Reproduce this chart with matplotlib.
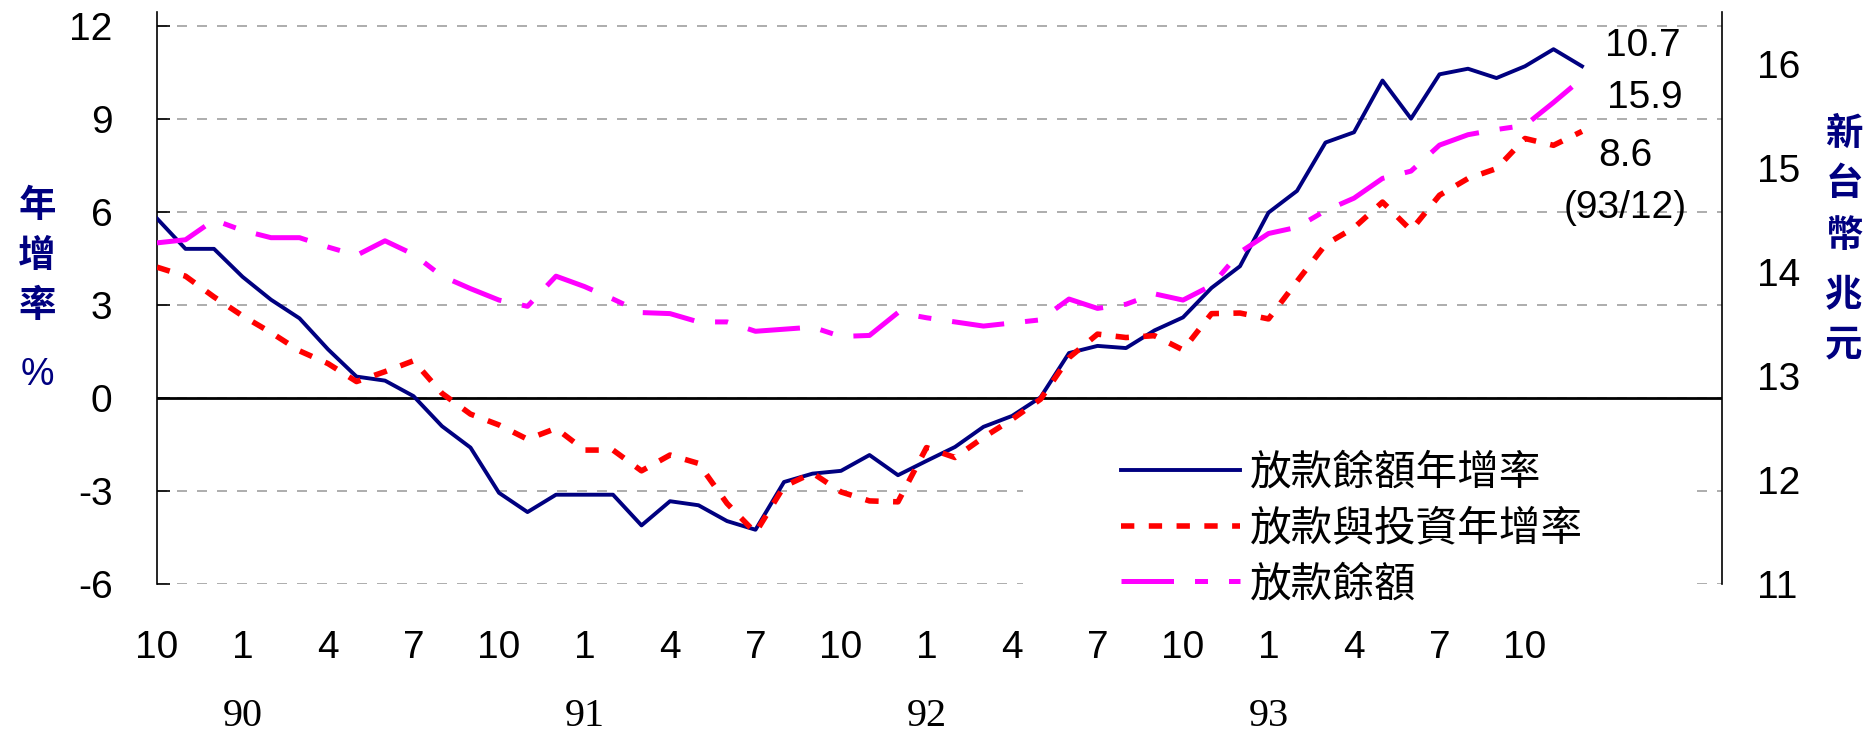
import matplotlib
matplotlib.use("Agg")
import matplotlib.pyplot as plt
from matplotlib.patches import Rectangle
from matplotlib.transforms import blended_transform_factory

# monthly data, 89/10 .. 93/12
loan_growth = [5.79, 4.81, 4.81, 3.91, 3.17, 2.57, 1.57, 0.69, 0.56, 0.06,
               -0.91, -1.60, -3.06, -3.68, -3.12, -3.12, -3.12, -4.11, -3.33, -3.46,
               -3.97, -4.25, -2.71, -2.44, -2.35, -1.84, -2.49, -2.03, -1.58, -0.93,
               -0.58, 0.02, 1.45, 1.68, 1.61, 2.18, 2.60, 3.55, 4.25, 5.98,
               6.68, 8.24, 8.57, 10.24, 9.01, 10.44, 10.62, 10.32, 10.70, 11.25,
               10.70]
loan_inv_growth = [4.22, 3.93, 3.26, 2.65, 2.11, 1.52, 1.11, 0.53, 0.85, 1.20,
                   0.15, -0.52, -0.87, -1.33, -0.98, -1.68, -1.68, -2.35, -1.84, -2.11,
                   -3.40, -4.35, -2.85, -2.42, -3.03, -3.32, -3.35, -1.60, -1.92, -1.27,
                   -0.69, -0.04, 1.30, 2.06, 1.95, 2.01, 1.55, 2.72, 2.74, 2.55,
                   3.76, 4.95, 5.49, 6.32, 5.41, 6.54, 7.08, 7.40, 8.37, 8.15,
                   8.60]
loan_balance = [14.28, 14.31, 14.50, 14.40, 14.33, 14.33, 14.24, 14.16, 14.30, 14.17,
                13.96, 13.84, 13.73, 13.67, 13.96, 13.86, 13.74, 13.61, 13.60, 13.52,
                13.52, 13.43, 13.45, 13.47, 13.38, 13.39, 13.61, 13.56, 13.52, 13.48,
                13.51, 13.54, 13.74, 13.65, 13.69, 13.79, 13.73, 13.87, 14.19, 14.37,
                14.43, 14.59, 14.71, 14.90, 14.97, 15.22, 15.32, 15.37, 15.41, 15.63,
                15.86]

month_labels = ["10", "1", "4", "7"] * 4 + ["10"]
year_labels = ["90", "91", "92", "93"]
year_pos = [3, 15, 27, 39]
left_ticks = [-6, -3, 0, 3, 6, 9, 12]
right_ticks = [11, 12, 13, 14, 15, 16]

W, H = 1870, 736


def fx(x):
    return x / W


def fy(y):
    return 1 - y / H


plt.rcParams["font.family"] = ["Liberation Sans", "Noto Sans CJK TC"]
plt.rcParams["axes.unicode_minus"] = False

fig = plt.figure(figsize=(W / 100, H / 100), dpi=100)
ax = fig.add_axes([fx(157), fy(584), fx(1722) - fx(157), fy(12) - fy(584)])
ax2 = ax.twinx()

x = list(range(len(loan_growth)))
navy = "#000080"

l1, = ax.plot(x, loan_growth, color=navy, lw=2.8, zorder=3)
l2, = ax.plot(x, loan_inv_growth, color="#ff0000", lw=4.0,
              linestyle=(0, (2.4, 2.6)), zorder=3)
l3, = ax2.plot(x, loan_balance, color="#ff00ff", lw=3.6,
               linestyle=(0, (10.5, 4.2, 2.6, 4.2)))

ax.axhline(0, color="black", lw=2.0, zorder=2)

ax.set_xlim(0, (1722 - 157) / 28.5)
ax.set_ylim(-6, 12.45)
ax2.set_ylim(11, 16.5)

ax.set_axisbelow(True)
ax.set_yticks(left_ticks)
ax.yaxis.grid(True, linestyle=(0, (6, 6)), color="#a0a0a0", lw=1.2)
ax.tick_params(axis="y", direction="in", length=9.5, width=1.2, pad=32,
               labelsize=28)
ax.set_xticks(range(0, 49, 3), month_labels)
ax.tick_params(axis="x", length=0, pad=33, labelsize=28)

ax2.set_yticks(right_ticks)
ax2.tick_params(axis="y", length=0, pad=25, labelsize=28)

for sp in ["top", "bottom"]:
    ax.spines[sp].set_visible(False)
    ax2.spines[sp].set_visible(False)
ax.spines["left"].set_linewidth(1.2)
ax2.spines["right"].set_linewidth(1.2)
ax2.spines["left"].set_visible(False)
ax.spines["right"].set_visible(False)

year_tr = blended_transform_factory(ax.transData, fig.transFigure)
for lab, pos in zip(year_labels, year_pos):
    ax.text(pos, fy(716), lab, transform=year_tr, ha="center", va="center",
            fontsize=29, family="Liberation Serif")

# axis titles, stacked characters
for ch, yy in zip(["年", "增", "率"], [205, 255, 305]):
    fig.text(fx(37), fy(yy), ch, ha="center", va="center", fontsize=27,
             color=navy, weight="bold", family="Noto Sans CJK TC")
fig.text(fx(37), fy(375), "%", ha="center", va="center", fontsize=27, color=navy)
for ch, yy in zip(["新", "台", "幣", "兆", "元"], [133, 184, 235, 295, 344]):
    fig.text(fx(1844), fy(yy), ch, ha="center", va="center", fontsize=27,
             color=navy, weight="bold", family="Noto Sans CJK TC")

# end values
fig.text(fx(1643), fy(46), "10.7", ha="center", va="center", fontsize=28)
fig.text(fx(1645), fy(98), "15.9", ha="center", va="center", fontsize=28)
fig.text(fx(1625), fy(156), "8.6", ha="center", va="center", fontsize=28)
fig.text(fx(1625), fy(208), "(93/12)", ha="center", va="center", fontsize=28)

# legend on a white box
ax.add_patch(Rectangle((fx(1023), fy(625)), fx(1693) - fx(1023), fy(420) - fy(625),
                       transform=fig.transFigure, facecolor="white",
                       edgecolor="none", clip_on=False, zorder=1))
ax2.legend([l1, l2, l3], ["放款餘額年增率", "放款與投資年增率", "放款餘額"],
           loc="center left", bbox_to_anchor=(fx(1121), fy(529)),
           bbox_transform=fig.transFigure, frameon=False, borderpad=0,
           borderaxespad=0, handlelength=2.86, handletextpad=0.24,
           labelspacing=0.35, prop={"family": "Noto Sans CJK TC", "size": 30})

fig.savefig("out.png", dpi=100)
